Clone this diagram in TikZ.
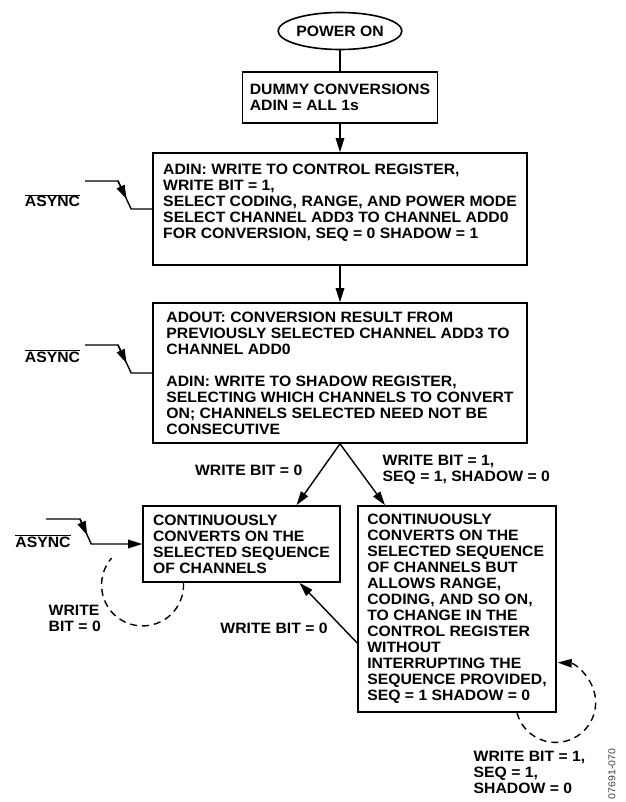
\documentclass[tikz,border=0pt]{standalone}
\usepackage{fontspec}
\setmainfont{Liberation Sans}[FakeStretch=1.05]
\usetikzlibrary{shapes.geometric,arrows.meta,calc}

\begin{document}
\begin{tikzpicture}[x=1pt,y=-1pt,line width=1.4pt,
    font=\bfseries\fontsize{15}{16}\selectfont,
    box/.style={draw,line width=1.6pt,align=left,inner sep=0pt},
    lbl/.style={inner sep=0pt,align=left},
    arr/.style={-{Triangle[length=14pt,width=8.5pt]}},
    loop/.style={dash pattern=on 7pt off 5pt}]
    \useasboundingbox (0,0) rectangle (625,802);

    \node[ellipse,draw,line width=1.6pt,minimum width=120pt,minimum height=37pt,inner sep=0pt] (pwr) at (340,31) {POWER ON};
    \node[box,minimum width=195pt,minimum height=51pt] (dum) at (340,97.5) {DUMMY CONVERSIONS\\ADIN = ALL 1s};
    \node[box,minimum width=374pt,minimum height=112pt,text depth=16pt] (ctl) at (340,209) {ADIN: WRITE TO CONTROL REGISTER,\\
        WRITE BIT = 1,\\
        SELECT CODING, RANGE, AND POWER MODE\\
        SELECT CHANNEL ADD3 TO CHANNEL ADD0\\
        FOR CONVERSION, SEQ = 0 SHADOW = 1};
    \node[box,minimum width=374pt,minimum height=140pt] (shd) at (340,373) {ADOUT: CONVERSION RESULT FROM\\
        PREVIOUSLY SELECTED CHANNEL ADD3 TO\\
        CHANNEL ADD0\\[16pt]
        ADIN: WRITE TO SHADOW REGISTER,\\
        SELECTING WHICH CHANNELS TO CONVERT\\
        ON; CHANNELS SELECTED NEED NOT BE\\
        CONSECUTIVE};
    \node[box,minimum width=197pt,minimum height=76pt] (seq) at (241.5,544) {CONTINUOUSLY\\CONVERTS ON THE\\SELECTED SEQUENCE\\OF CHANNELS};
    \node[box,minimum width=198pt,minimum height=206pt] (chg) at (457,609) {CONTINUOUSLY\\CONVERTS ON THE\\SELECTED SEQUENCE\\OF CHANNELS BUT\\ALLOWS RANGE,\\CODING, AND SO ON,\\TO CHANGE IN THE\\CONTROL REGISTER\\WITHOUT\\INTERRUPTING THE\\SEQUENCE PROVIDED,\\SEQ = 1 SHADOW = 0};

    \node[lbl,anchor=east] (w0) at (303,470) {WRITE BIT = 0};
    \node[lbl,anchor=west] (w1) at (382,470) {WRITE BIT = 1,\\SEQ = 1, SHADOW = 0};
    \node[lbl] (w2) at (274,628) {WRITE BIT = 0};
    \node[lbl,anchor=west] (w3) at (48,618) {WRITE\\BIT = 0};
    \node[lbl,anchor=west] (w4) at (473,772) {WRITE BIT = 1,\\SEQ = 1,\\SHADOW = 0};

    \node[lbl,anchor=base] (as0) at (52.5,207) {$\overline{\hbox{ASYNC}}$};
    \node[lbl,anchor=base] (as1) at (52.5,362) {$\overline{\hbox{ASYNC}}$};
    \node[lbl,anchor=base] (as2) at (43,547) {$\overline{\hbox{ASYNC}}$};
    \node[rotate=90,font=\fontsize{10}{12}\selectfont,text=black!75] (fig) at (612,774) {07691-070};

    \coordinate (s0) at (85,181);
    \coordinate (s1) at (85,345);
    \coordinate (s2) at (46,519);
    \draw (s0) -- ++(33,0) coordinate (k0) -- ([xshift=-21pt]ctl.west) coordinate (m0) -- (ctl.west);
    \draw[arr] (k0) -- ($(k0)!.65!(m0)$);
    \draw (s1) -- ++(33,0) coordinate (k1) -- ([xshift=-21pt]shd.west) coordinate (m1) -- (shd.west);
    \draw[arr] (k1) -- ($(k1)!.65!(m1)$);
    \draw[arr] (s2) -- ++(34,0) coordinate (k2) -- ([xshift=-51pt]seq.west) coordinate (m2) -- (seq.west);
    \draw[arr] (k2) -- ($(k2)!.65!(m2)$);

    \draw (pwr) -- (dum);
    \draw[arr] (dum) -- (ctl);
    \draw[arr] (ctl) -- (shd);
    \draw[arr] (shd.south) -- ([xshift=55pt]seq.north);
    \draw[arr] (shd.south) -- ([xshift=-72pt]chg.north);
    \draw[arr] ([yshift=-34pt]chg.west) -- ([xshift=58pt]seq.south);

    \draw[loop] ([xshift=-58pt]seq.south) arc[start angle=3,end angle=-221,radius=41pt];
    \draw[loop,arr] ([xshift=60pt]chg.south) arc[start angle=195,end angle=447,radius=40pt];
\end{tikzpicture}
\end{document}
